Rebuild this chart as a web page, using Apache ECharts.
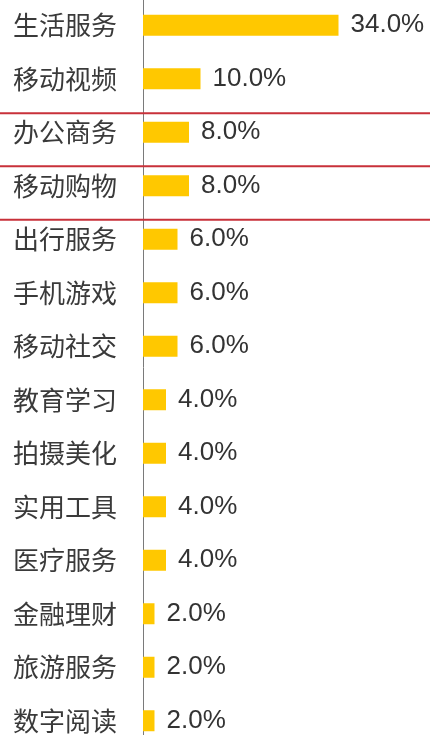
<!DOCTYPE html>
<html>
<head>
<meta charset="utf-8">
<script src="https://cdn.jsdelivr.net/npm/echarts@6/dist/echarts.min.js"></script>
<style>
html, body { margin: 0; padding: 0; background: #fff; }
#main { width: 430px; height: 735px; }
</style>
</head>
<body>
<div id="main"></div>
<script>
// 应用类别
var categories = ['生活服务', '移动视频', '办公商务', '移动购物', '出行服务', '手机游戏', '移动社交',
	'教育学习', '拍摄美化', '实用工具', '医疗服务', '金融理财', '旅游服务', '数字阅读'];
// 占比 %
var shares = [34, 10, 8, 8, 6, 6, 6, 4, 4, 4, 4, 2, 2, 2];
// 红框标注的行
var boxedRows = ['办公商务', '移动购物'];

function createchart() {
	var myChart = echarts.init(document.getElementById('main'));
	var option = {
		animation: false,
		grid: {
			left: 143,
			width: 230,
			top: -1.5,
			height: 749,
			containLabel: false,
			outerBoundsMode: 'none'
		},
		xAxis: {
			type: 'value',
			min: 0,
			max: 40,
			show: false
		},
		yAxis: {
			type: 'category',
			data: categories,
			inverse: true,
			axisLine: { show: true, lineStyle: { color: '#7a7a7a', width: 1 } },
			axisTick: { show: false },
			splitLine: { show: false },
			axisLabel: {
				margin: 26,
				color: '#3a3a3a',
				fontSize: 26,
				fontFamily: 'Noto Sans CJK SC'
			}
		},
		series: [{
			type: 'bar',
			data: shares,
			barWidth: 21,
			itemStyle: { color: '#ffc800' },
			label: {
				show: true,
				position: 'right',
				distance: 12,
				color: '#333',
				fontSize: 26,
				fontFamily: 'Liberation Sans',
				formatter: function(p) { return p.value.toFixed(1) + '%'; }
			}
		}]
	};
	myChart.setOption(option);

	// 红框: 以所标注行的上下边界画线
	var lines = [];
	var edges = [];
	boxedRows.forEach(function(name) {
		var idx = categories.indexOf(name);
		var c = myChart.convertToPixel({ yAxisIndex: 0 }, idx);
		edges.push(c - 19, c + 34);
	});
	edges = edges.filter(function(v, i) {
		return edges.findIndex(function(w) { return Math.abs(w - v) < 4; }) === i;
	});
	edges.forEach(function(y) {
		lines.push({
			type: 'line',
			shape: { x1: 0, y1: y, x2: 430, y2: y },
			style: { stroke: '#c8313a', lineWidth: 2 },
			z: 100
		});
	});
	myChart.setOption({ graphic: lines });
}
createchart();
</script>
</body>
</html>
